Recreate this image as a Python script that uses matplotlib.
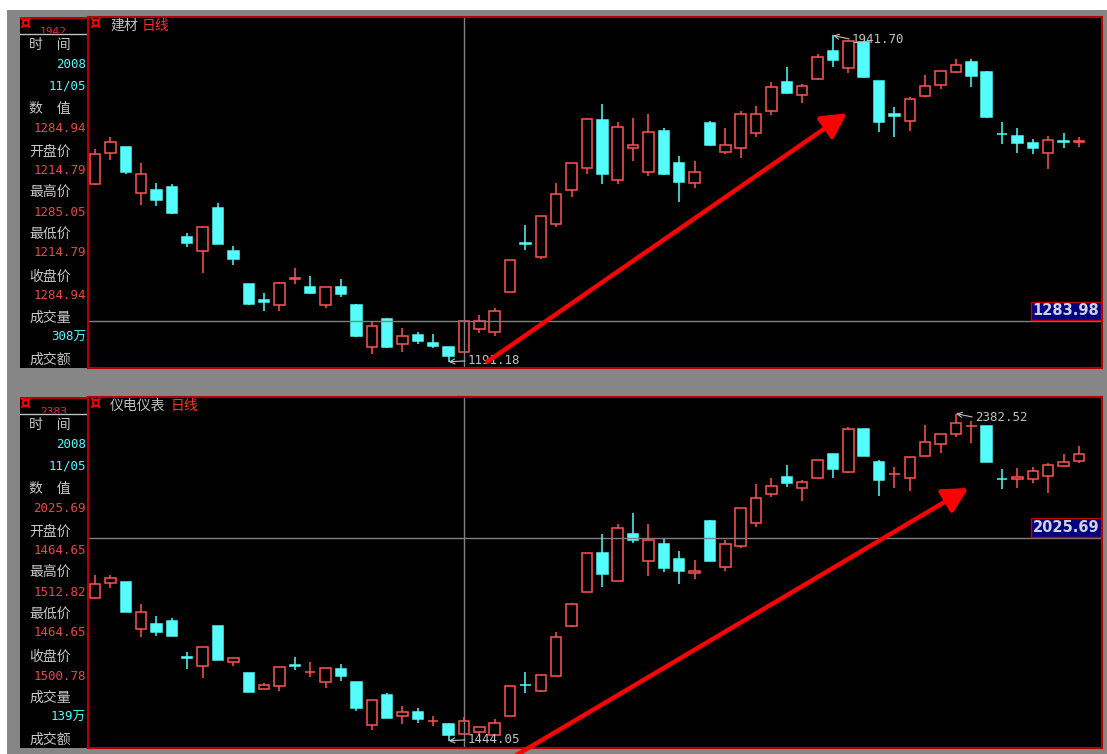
import matplotlib
matplotlib.use("Agg")
import matplotlib.pyplot as plt
from matplotlib.patches import Rectangle

plt.rcParams['font.family'] = ['Noto Sans CJK SC', 'DejaVu Sans']

W, H = 1107, 754

# 建材 日线 (开 高 低 收)
jc_open = [1600, 1671, 1685, 1579, 1586, 1593, 1478, 1446, 1545, 1446,
           1370, 1333, 1322, 1381, 1363, 1322, 1363, 1322, 1225, 1290,
           1232, 1253, 1234, 1225, 1214.79, 1267, 1260, 1352, 1465, 1432,
           1508, 1586, 1637, 1747, 1609, 1683, 1628, 1722, 1648, 1602,
           1740, 1674, 1683, 1717, 1768, 1835, 1805, 1842, 1906, 1867,
           1927, 1837, 1760, 1745, 1802, 1828, 1858, 1881, 1858, 1716,
           1711, 1694, 1671, 1698, 1696]
jc_high = [1681, 1708, 1686, 1648, 1602, 1600, 1487, 1502, 1556, 1458,
           1371, 1349, 1375, 1407, 1389, 1364, 1382, 1323, 1283, 1292,
           1269, 1260, 1255, 1226, 1285.05, 1299, 1315, 1426, 1506, 1527,
           1602, 1649, 1752, 1784, 1743, 1752, 1761, 1729, 1664, 1653,
           1745, 1729, 1768, 1780, 1835, 1869, 1830, 1899, 1941.70, 1931,
           1929, 1838, 1777, 1800, 1851, 1861, 1888, 1888, 1859, 1743,
           1729, 1704, 1711, 1717, 1708]
jc_low = [1598, 1655, 1623, 1552, 1550, 1532, 1455, 1395, 1461, 1414,
          1321, 1308, 1308, 1370, 1348, 1315, 1340, 1248, 1209, 1224,
          1214, 1232, 1223, 1191.18, 1214.79, 1257, 1250, 1351, 1448, 1428,
          1501, 1570, 1623, 1600, 1600, 1653, 1618, 1621, 1559, 1591,
          1688, 1669, 1660, 1708, 1759, 1807, 1786, 1840, 1869, 1855,
          1844, 1720, 1708, 1722, 1800, 1819, 1856, 1823, 1752, 1692,
          1671, 1669, 1635, 1683, 1685]
jc_close = [1669, 1697, 1628, 1623, 1563, 1533, 1464, 1501, 1462, 1428,
            1324, 1329, 1372, 1383, 1349, 1363, 1347, 1251, 1274, 1225,
            1251, 1239, 1228, 1205, 1284.94, 1285, 1308, 1425, 1461, 1526,
            1577, 1648, 1750, 1623, 1731, 1690, 1720, 1623, 1605, 1628,
            1690, 1690, 1761, 1761, 1823, 1809, 1826, 1892, 1885, 1929,
            1846, 1743, 1757, 1796, 1826, 1860, 1874, 1848, 1754, 1714,
            1694, 1683, 1701, 1696, 1698]

# 仪电仪表 日线
yd_open = [1853, 1896, 1899, 1764, 1779, 1788, 1683, 1659, 1773, 1670,
           1638, 1592, 1601, 1660, 1640, 1613, 1650, 1613, 1489, 1575,
           1515, 1526, 1500, 1492, 1464.65, 1470, 1461, 1515, 1605, 1587,
           1630, 1773, 1871, 1983, 1902, 2037, 1960, 2008, 1965, 1925,
           2075, 1942, 2003, 2069, 2152, 2201, 2170, 2198, 2266, 2215,
           2338, 2244, 2208, 2198, 2261, 2295, 2324, 2346, 2347, 2196,
           2195, 2195, 2204, 2232, 2247]
yd_high = [1920, 1920, 1900, 1837, 1801, 1796, 1699, 1713, 1774, 1682,
           1639, 1610, 1656, 1684, 1670, 1654, 1664, 1614, 1562, 1581,
           1544, 1538, 1515, 1495, 1512.82, 1484, 1507, 1602, 1641, 1633,
           1756, 1840, 1984, 2037, 2066, 2097, 2066, 2023, 1988, 1963,
           2076, 2020, 2113, 2180, 2198, 2235, 2192, 2250, 2267, 2344,
           2339, 2250, 2229, 2259, 2350, 2324, 2382.52, 2362, 2348, 2223,
           2226, 2229, 2241, 2266, 2289]
yd_low = [1852, 1882, 1812, 1742, 1745, 1744, 1650, 1624, 1675, 1659,
          1583, 1592, 1587, 1647, 1627, 1595, 1616, 1529, 1475, 1509,
          1492, 1495, 1486, 1444.05, 1464.65, 1461, 1460, 1514, 1581, 1584,
          1629, 1770, 1870, 1885, 1901, 2011, 1917, 1928, 1893, 1908,
          1959, 1931, 1997, 2057, 2143, 2171, 2131, 2197, 2198, 2212,
          2260, 2146, 2170, 2161, 2260, 2269, 2315, 2298, 2243, 2167,
          2169, 2183, 2155, 2231, 2241]
yd_close = [1893, 1911, 1813, 1813, 1756, 1745, 1680, 1712, 1676, 1681,
            1584, 1604, 1656, 1658, 1642, 1653, 1630, 1538, 1561, 1510,
            1526, 1507, 1502, 1461, 1500.78, 1483, 1495, 1601, 1603, 1632,
            1742, 1837, 1983, 1922, 2054, 2020, 2020, 1940, 1931, 1931,
            1960, 2008, 2112, 2140, 2174, 2183, 2186, 2249, 2223, 2338,
            2261, 2192, 2210, 2258, 2301, 2323, 2356, 2348, 2244, 2194,
            2201, 2217, 2235, 2244, 2266]

info_labels = ['时　间', '数　值', '开盘价', '最高价', '最低价', '收盘价', '成交量', '成交额']
jc_info = ['2008', '11/05', '1284.94', '1214.79', '1285.05', '1214.79', '1284.94', '308万']
yd_info = ['2008', '11/05', '2025.69', '1464.65', '1512.82', '1464.65', '1500.78', '139万']

RED = '#ff5454'
CYAN = '#54fcfc'
GREY = '#808080'
TXT = '#c8c8c8'
BORDER = '#b40000'
MONO = ['DejaVu Sans Mono', 'Noto Sans CJK SC']


def px_axes(fig, x0, y0, x1, y1):
    """按像素位置建坐标轴 (左上角为原点)"""
    return fig.add_axes([x0 / W, 1 - y1 / H, (x1 - x0) / W, (y1 - y0) / H])


def ftext(fig, x, y, s, **kw):
    fig.text(x / W, 1 - y / H, s, **kw)


def gear(fig, x, y):
    """红色小齿轮图标"""
    ftext(fig, x, y, '¤', color='red', fontsize=13, fontweight='bold',
          family='DejaVu Sans', ha='center', va='center')


def draw_candles(ax, o, h, l, c):
    for i in range(len(o)):
        up = c[i] >= o[i]
        col = RED if up else CYAN
        top, bot = max(o[i], c[i]), min(o[i], c[i])
        ax.vlines(i, top, h[i], color=col, lw=1.1)
        ax.vlines(i, l[i], bot, color=col, lw=1.1)
        ax.add_patch(Rectangle((i - 0.34, bot), 0.68, top - bot,
                               facecolor='black' if up else col,
                               edgecolor=col, lw=1.1))


def draw_panel(fig, y_top, name, o, h, l, c, ylim, cross_i, cross_p,
               corner, info, arrow):
    y_bot = y_top + 351

    # 左侧信息栏
    ia = px_axes(fig, 20, y_top, 88, y_bot)
    ia.set_facecolor('black')
    ia.set_xlim(0, 68)
    ia.set_ylim(351, 0)
    ia.set_xticks([])
    ia.set_yticks([])
    for s in ia.spines.values():
        s.set_visible(False)
    ia.axhline(0.5, color=BORDER, lw=1.5)
    ia.plot([0, 68], [17, 17], color='#c0c0c0', lw=1)
    gear(fig, 25, y_top + 7)
    # 被遮住一半的最高价数字 (只露出上半截)
    hdr = px_axes(fig, 36, y_top + 9, 86, y_top + 16)
    hdr.set_facecolor('black')
    hdr.set_axis_off()
    hdr.set_xlim(0, 50)
    hdr.set_ylim(7, 0)
    hdr.text(4, 1, corner, color='#e03030', fontsize=8, family=MONO,
             va='top', ha='left', clip_on=True)

    label_y = [28, 92, 135, 176, 217, 260, 301, 343]
    value_y = [47, 69, 111, 153, 195, 236, 279, 320]
    value_col = [CYAN, CYAN, '#e84848', '#e84848', '#e84848', '#e84848',
                 '#e84848', CYAN]
    for lab, yy in zip(info_labels, label_y):
        ia.text(9, yy, lab, color=TXT, fontsize=10, ha='left', va='center')
    for val, yy, col in zip(info, value_y, value_col):
        ia.text(66, yy, val, color=col, fontsize=9, family=MONO,
                ha='right', va='center')

    # K线区域
    ax = px_axes(fig, 88, y_top, 1102, y_bot)
    ax.set_facecolor('black')
    ax.set_xlim(-0.455, 65.5)
    ax.set_ylim(*ylim)
    ax.set_xticks([])
    ax.set_yticks([])
    for s in ax.spines.values():
        s.set_color(BORDER)
        s.set_linewidth(1.5)

    ax.axhline(cross_p, color=GREY, lw=1)
    ax.axvline(cross_i, color=GREY, lw=1)
    draw_candles(ax, o, h, l, c)

    # 最高/最低标注
    hi = max(range(len(h)), key=lambda k: h[k])
    lo = min(range(len(l)), key=lambda k: l[k])
    ax.annotate(f'{h[hi]:.2f}', xy=(hi, h[hi]), xytext=(19, -4),
                textcoords='offset pixels', color='#c0c0c0', fontsize=9,
                family=MONO, ha='left', va='center',
                arrowprops=dict(arrowstyle='->', color='#c0c0c0', lw=0.8,
                                shrinkA=0, shrinkB=0, relpos=(0, 0.5)))
    ax.annotate(f'{l[lo]:.2f}', xy=(lo, l[lo]), xytext=(19, 1),
                textcoords='offset pixels', color='#c0c0c0', fontsize=9,
                family=MONO, ha='left', va='center',
                arrowprops=dict(arrowstyle='->', color='#c0c0c0', lw=0.8,
                                shrinkA=0, shrinkB=0, relpos=(0, 0.5)))

    # 十字光标价格框
    ax.annotate(f'{cross_p:.2f}', xy=(1, cross_p),
                xycoords=ax.get_yaxis_transform(), xytext=(-3, 3),
                textcoords='offset pixels', ha='right', va='bottom',
                color='#d0d0e0', fontsize=10.5, fontweight='bold',
                family='DejaVu Sans',
                bbox=dict(boxstyle='square,pad=0.12', fc='#000080',
                          ec='#c00000', lw=1))

    # 红色箭头
    (x0, p0), (x1, p1) = arrow
    ax.annotate('', xy=(x1, p1), xytext=(x0, p0),
                arrowprops=dict(arrowstyle='-|>,head_length=0.75,head_width=0.4',
                                color='#ff0000', lw=3.2, mutation_scale=20,
                                shrinkA=0, shrinkB=0),
                annotation_clip=False)

    # 标题
    gear(fig, 95, y_top + 7)
    ftext(fig, 110, y_top + 9, name, color='#c0c0c0', fontsize=10,
          ha='left', va='center')
    ftext(fig, 113 + 14.5 * len(name), y_top + 9, '日线', color='#ff3030',
          fontsize=10, ha='left', va='center')


fig = plt.figure(figsize=(W / 100, H / 100), dpi=100)
fig.patch.set_facecolor('white')
fig.add_artist(Rectangle((7 / W, 0), 1 - 7 / W, 1 - 10 / H,
                         transform=fig.transFigure, facecolor='#868686',
                         edgecolor='none', zorder=-10))

draw_panel(fig, 17, '建材', jc_open, jc_high, jc_low, jc_close,
           (1176.9, 1984.2), 24, 1283.98, '1942', jc_info,
           ((25.5, 1191), (48.9, 1763)))
draw_panel(fig, 397, '仪电仪表', yd_open, yd_high, yd_low, yd_close,
           (1423.3, 2430.0), 24, 2025.69, '2383', yd_info,
           ((27.3, 1400), (56.8, 2169)))

fig.savefig('out.png', dpi=100, facecolor=fig.get_facecolor())
